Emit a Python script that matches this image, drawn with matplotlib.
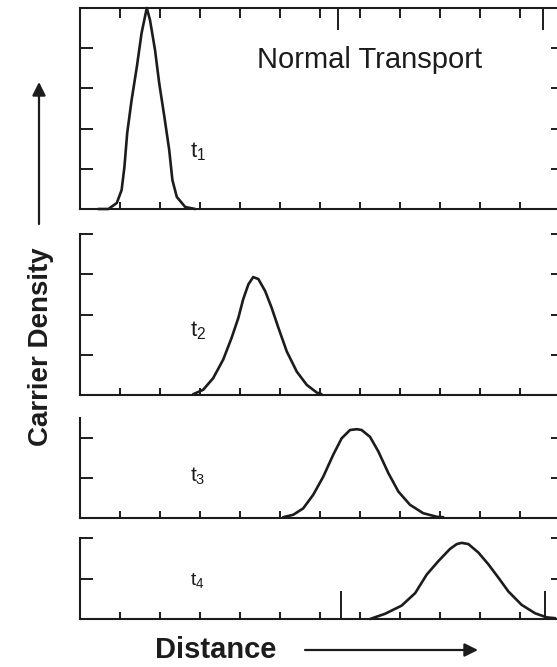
import matplotlib
matplotlib.use("Agg")
import matplotlib.pyplot as plt

plt.rcParams['font.family'] = ['Liberation Sans', 'DejaVu Sans']
plt.rcParams['mathtext.fontset'] = 'custom'
plt.rcParams['mathtext.rm'] = 'Liberation Sans'
plt.rcParams['mathtext.it'] = 'Liberation Sans'

# ---------------- data ----------------
x_t1 = [0.45, 0.71, 0.92, 1.04, 1.11, 1.18, 1.29, 1.42, 1.54, 1.67,
        1.75, 1.875, 1.98, 2.11, 2.23, 2.31, 2.42, 2.63, 2.88]
y_t1 = [0.00, 0.00, 0.15, 0.47, 1.04, 1.89, 2.71, 3.53, 4.38, 5.00,
        4.70, 3.96, 3.13, 2.29, 1.47, 0.72, 0.30, 0.05, 0.00]

x_t2 = [2.83, 3.08, 3.33, 3.58, 3.79, 3.96, 4.08, 4.21, 4.33,
        4.46, 4.63, 4.79, 4.96, 5.17, 5.42, 5.67, 5.92, 6.04]
y_t2 = [0.02, 0.13, 0.42, 0.88, 1.42, 1.92, 2.38, 2.75, 2.93,
        2.88, 2.58, 2.17, 1.67, 1.08, 0.58, 0.25, 0.06, 0.02]

x_t3 = [5.08, 5.33, 5.58, 5.83, 6.08, 6.33, 6.54, 6.75, 6.92,
        7.04, 7.25, 7.46, 7.71, 7.96, 8.25, 8.58, 8.92, 9.08]
y_t3 = [0.02, 0.08, 0.24, 0.58, 1.03, 1.58, 1.99, 2.20, 2.22,
        2.20, 2.03, 1.66, 1.12, 0.66, 0.33, 0.12, 0.03, 0.02]

x_t4 = [7.25, 7.63, 8.04, 8.38, 8.67, 8.96, 9.25, 9.42, 9.54,
        9.71, 9.96, 10.21, 10.46, 10.71, 11.04, 11.38, 11.67, 11.88]
y_t4 = [0.00, 0.13, 0.33, 0.64, 1.10, 1.43, 1.73, 1.85, 1.88,
        1.85, 1.64, 1.35, 1.02, 0.68, 0.35, 0.14, 0.04, 0.02]

series_x = [x_t1, x_t2, x_t3, x_t4]
series_y = [y_t1, y_t2, y_t3, y_t4]
time_labels = [r'$\mathrm{t_1}$', r'$\mathrm{t_2}$', r'$\mathrm{t_3}$', r'$\mathrm{t_4}$']
x_ticks = [1, 2, 3, 4, 5, 6, 7, 8, 9, 10, 11]
y_ticks = [[1, 2, 3, 4], [1, 2, 3, 4], [1, 2], [1, 2]]
y_tops = [5.0, 4.0, 2.5, 2.0]
title_text = "Normal Transport"
ylabel_text = "Carrier Density"
xlabel_text = "Distance"

# ---------------- layout ----------------
W, H = 557, 667
DPI = 100
fig = plt.figure(figsize=(W / DPI, H / DPI), dpi=DPI)
fig.patch.set_facecolor('white')

ink = '#1c1c1c'
left_px, right_px = 80, 558
panels_px = [(8, 209), (234, 395), (418, 518), (538, 619)]  # (top, bottom)
xmax = (right_px - left_px) / 40.0
label_pos = [(190, 157), (190, 336), (190, 482), (190, 585)]  # baseline of t
label_sizes = [16, 16, 15, 14]

for i, (top, bot) in enumerate(panels_px):
    ax = fig.add_axes([left_px / W, (H - bot) / H, (right_px - left_px) / W, (bot - top) / H])
    ax.plot(series_x[i], series_y[i], color=ink, lw=1.9, solid_joinstyle='round',
            solid_capstyle='round', clip_on=False)
    ax.set_xlim(0, xmax)
    ax.set_ylim(0, y_tops[i])
    for s in ['left', 'bottom', 'top', 'right']:
        ax.spines[s].set_linewidth(1.5)
        ax.spines[s].set_color(ink)
    ax.spines['right'].set_visible(False)
    ax.spines['top'].set_visible(i == 0)
    ax.set_xticks(x_ticks)
    ax.set_yticks(y_ticks[i])
    ax.tick_params(axis='x', direction='in', length=5, width=1.4, color=ink,
                   labelbottom=False, top=False)
    ax.tick_params(axis='y', direction='in', length=9.5, width=1.4, color=ink,
                   labelleft=False, right=False)
    # right-hand ticks (shorter)
    sec = ax.secondary_yaxis('right')
    sec.set_yticks(y_ticks[i])
    sec.tick_params(direction='in', length=5, width=1.4, color=ink, labelright=False)
    sec.spines['right'].set_visible(False)
    if i == 0:
        topax = ax.secondary_xaxis('top')
        topax.set_xticks(x_ticks)
        topax.set_xticks([6.45, 11.58], minor=True)
        topax.tick_params(which='major', direction='in', length=7, width=1.4, color=ink,
                          labeltop=False)
        topax.tick_params(which='minor', direction='in', length=16, width=1.4, color=ink,
                          labeltop=False)
        topax.spines['top'].set_visible(False)
    if i == 3:
        ax.set_xticks([6.53, 11.63], minor=True)
        ax.tick_params(axis='x', which='minor', direction='in', length=20, width=1.4,
                       color=ink)
    lx, ly = label_pos[i]
    fig.text(lx / W, (H - ly) / H, time_labels[i], fontsize=label_sizes[i], color=ink,
             ha='left', va='baseline')

# title inside the top panel
fig.text(257 / W, (H - 68) / H, title_text, fontsize=21, color=ink, ha='left', va='baseline')

# y label with arrow
fig.text(41 / W, (H - 347) / H, ylabel_text, fontsize=20, fontweight='bold', color=ink,
         rotation=90, ha='center', va='center')
fig.add_artist(plt.matplotlib.patches.FancyArrowPatch(
    (39 / W, (H - 224) / H), (39 / W, (H - 82) / H), transform=fig.transFigure,
    arrowstyle='-|>', mutation_scale=20, lw=1.6, color=ink, shrinkA=0, shrinkB=0))

# x label with arrow
fig.text(155 / W, (H - 650) / H, xlabel_text, fontsize=21, fontweight='bold', color=ink,
         ha='left', va='center')
fig.add_artist(plt.matplotlib.patches.FancyArrowPatch(
    (305 / W, (H - 650) / H), (478 / W, (H - 650) / H), transform=fig.transFigure,
    arrowstyle='-|>', mutation_scale=20, lw=1.6, color=ink, shrinkA=0, shrinkB=0))

fig.savefig('out.png', dpi=DPI, facecolor='white')
